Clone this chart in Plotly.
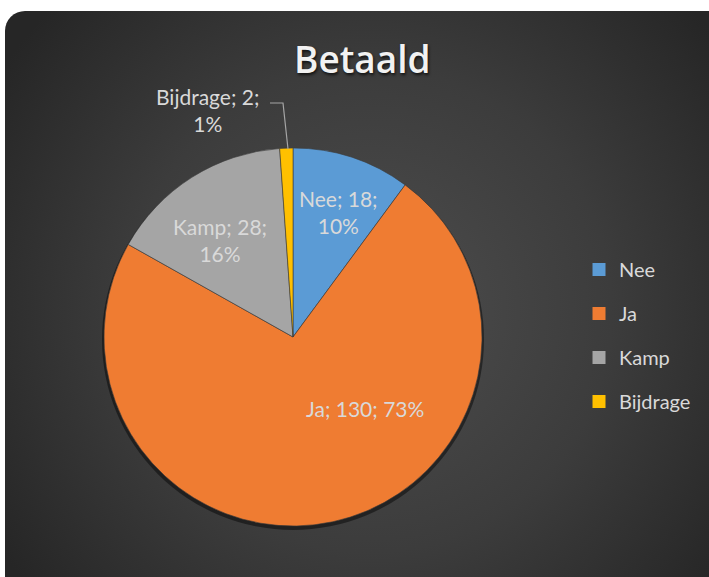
import base64
import plotly.graph_objects as go

# ---- data ----
categories = ["Nee", "Ja", "Kamp", "Bijdrage"]
values = [18, 130, 28, 2]
colors = ["#5b9bd5", "#ef7c32", "#a5a5a5", "#ffc000"]
title_text = "Betaald"

W, H = 709, 577
total = sum(values)
pcts = [round(v * 100 / total) for v in values]


def px(x):
    return x / W


def py(y):
    return 1 - y / H


# pie geometry in pixels
CX, CY, R = 293, 337, 189

# background panel with radial gradient
svg = f'''<svg xmlns="http://www.w3.org/2000/svg" width="{W}" height="{H}" viewBox="0 0 {W} {H}">
<defs><radialGradient id="g" gradientUnits="userSpaceOnUse" cx="370" cy="310" r="440">
<stop offset="0" stop-color="#4e4e4e"/><stop offset="0.55" stop-color="#3c3c3c"/><stop offset="1" stop-color="#262626"/></radialGradient></defs>
<rect x="5" y="11" width="730" height="620" rx="20" ry="20" fill="url(#g)"/></svg>'''
src = "data:image/svg+xml;base64," + base64.b64encode(svg.encode()).decode()

fig = go.Figure()
fig.add_trace(go.Pie(
    labels=categories, values=values, sort=False, direction="clockwise", rotation=0,
    marker=dict(colors=colors, line=dict(color="#3a3a3a", width=0.6)),
    textinfo="none", showlegend=False,
    domain=dict(x=[px(CX - R), px(CX + R)], y=[py(CY + R), py(CY - R)]),
))

# legend entries
for i, (c, col) in enumerate(zip(categories, colors)):
    fig.add_trace(go.Scatter(
        x=[None], y=[None], mode="markers", name=c, legendgroup=c,
        marker=dict(symbol="square", size=13, color=col),
    ))

# data labels
label_pos = {"Nee": (338, 212), "Ja": (365, 408), "Kamp": (220, 240), "Bijdrage": (208, 110)}
for c, v, p in zip(categories, values, pcts):
    if c == "Ja":
        txt = f"{c}; {v}; {p}%"
    else:
        txt = f"{c}; {v};<br>{p}%"
    x, y = label_pos[c]
    fig.add_annotation(x=px(x), y=py(y), xref="paper", yref="paper", text=txt,
                       showarrow=False, xanchor="center", yanchor="middle",
                       font=dict(family="Lato", size=21, color="#d9d9d9"))

# leader line for Bijdrage
fig.add_shape(type="path", xref="paper", yref="paper",
              path=f"M {px(270)},{py(103)} L {px(283)},{py(103)} L {px(288)},{py(149)}",
              line=dict(color="#a6a6a6", width=1.2))

# pie shadow
fig.add_shape(type="circle", xref="paper", yref="paper", layer="below",
              x0=px(CX - R - 2), x1=px(CX + R + 2), y0=py(CY + R + 4), y1=py(CY - R + 1),
              fillcolor="rgba(0,0,0,0.45)", line=dict(width=0))

# title
fig.add_annotation(x=px(362), y=py(58), xref="paper", yref="paper", text=title_text,
                   showarrow=False, xanchor="center", yanchor="middle",
                   font=dict(family="Open Sans", size=37, weight=600, color="#f2f2f2",
                             shadow="1px 2px 3px rgba(0,0,0,0.7)"))

fig.update_layout(
    width=W, height=H, margin=dict(l=0, r=0, t=0, b=0),
    paper_bgcolor="white", plot_bgcolor="rgba(0,0,0,0)",
    xaxis=dict(visible=False, range=[0, 1]), yaxis=dict(visible=False, range=[0, 1]),
    images=[dict(source=src, xref="paper", yref="paper", x=0, y=1, sizex=1, sizey=1,
                 sizing="stretch", layer="below", xanchor="left", yanchor="top")],
    legend=dict(x=px(579), y=py(250), xanchor="left", yanchor="top",
                font=dict(family="Lato", size=20, color="#d9d9d9"),
                bgcolor="rgba(0,0,0,0)", tracegroupgap=15, traceorder="grouped"),
    showlegend=True,
)

fig.write_html("out.html", config={"displayModeBar": False},
               post_script="document.body.style.margin='0';")
